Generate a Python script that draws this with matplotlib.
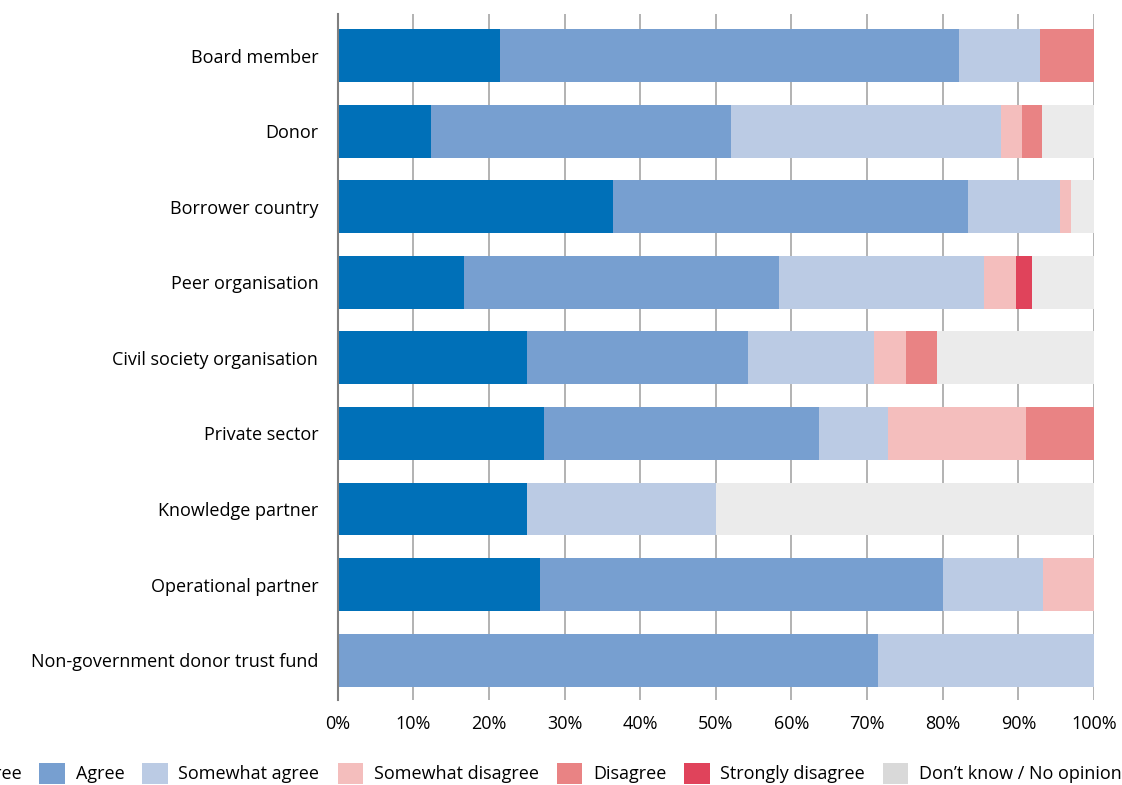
import matplotlib
matplotlib.use("Agg")
import matplotlib.pyplot as plt
import numpy as np

plt.rcParams["font.family"] = ["Open Sans", "DejaVu Sans"]

# 데이터 (응답 비율, %)
categories = ["Board member", "Donor", "Borrower country", "Peer organisation",
              "Civil society organisation", "Private sector", "Knowledge partner",
              "Operational partner", "Non-government donor trust fund"]
responses = ["Strongly agree", "Agree", "Somewhat agree", "Somewhat disagree",
             "Disagree", "Strongly disagree", "Don\u2019t know / No opinion"]

strongly_agree = [21.4, 12.3, 36.4, 16.7, 25.0, 27.3, 25.0, 26.7, 0.0]
agree = [60.7, 39.7, 46.9, 41.7, 29.2, 36.4, 0.0, 53.3, 71.4]
somewhat_agree = [10.7, 35.7, 12.2, 27.1, 16.7, 9.1, 25.0, 13.3, 28.6]
somewhat_disagree = [0.0, 2.8, 1.5, 4.2, 4.2, 18.2, 0.0, 6.7, 0.0]
disagree = [7.2, 2.6, 0.0, 0.0, 4.2, 9.0, 0.0, 0.0, 0.0]
strongly_disagree = [0.0, 0.0, 0.0, 2.1, 0.0, 0.0, 0.0, 0.0, 0.0]
dont_know = [0.0, 6.9, 3.0, 8.2, 20.7, 0.0, 50.0, 0.0, 0.0]

colors = ["#0070B8", "#779FD0", "#BBCBE4", "#F4BEBD", "#E98384", "#E0435B", "#EBEBEB"]

series = [strongly_agree, agree, somewhat_agree, somewhat_disagree,
          disagree, strongly_disagree, dont_know]

fig = plt.figure(figsize=(11.22, 7.85), dpi=100)
ax = fig.add_axes([0.301, 0.108, 0.674, 0.874])

y = np.arange(len(categories))
left = np.zeros(len(categories))
for name, vals, col in zip(responses, series, colors):
    vals = np.array(vals)
    ax.barh(y, vals, left=left, height=0.70, color=col, label=name, zorder=3)
    left += vals

ax.set_xlim(0, 100)
ax.set_ylim(8.53, -0.55)
ax.set_yticks(y)
ax.set_yticklabels(categories, fontsize=13)
ax.set_xticks(np.arange(0, 101, 10))
ax.set_xticklabels([f"{v}%" for v in range(0, 101, 10)], fontsize=13)
ax.tick_params(axis="x", length=0, pad=11)
ax.tick_params(axis="y", length=0, pad=14)

ax.grid(True, axis="x", color="#A6A6A6", linewidth=1.2, zorder=0)
for s in ["top", "right", "bottom"]:
    ax.spines[s].set_visible(False)
ax.spines["left"].set_color("#7F7F7F")
ax.spines["left"].set_linewidth(1.5)
ax.spines["left"].set_zorder(4)

leg = fig.legend(loc="center right", bbox_to_anchor=(1.0, 0.015), ncol=7, frameon=False,
                 fontsize=13, handlelength=1.4, handleheight=1.4, handletextpad=0.6,
                 columnspacing=1.0, borderaxespad=0, borderpad=0)
leg.legend_handles[-1].set_facecolor("#D9D9D9")

plt.savefig("out.png", dpi=100)
